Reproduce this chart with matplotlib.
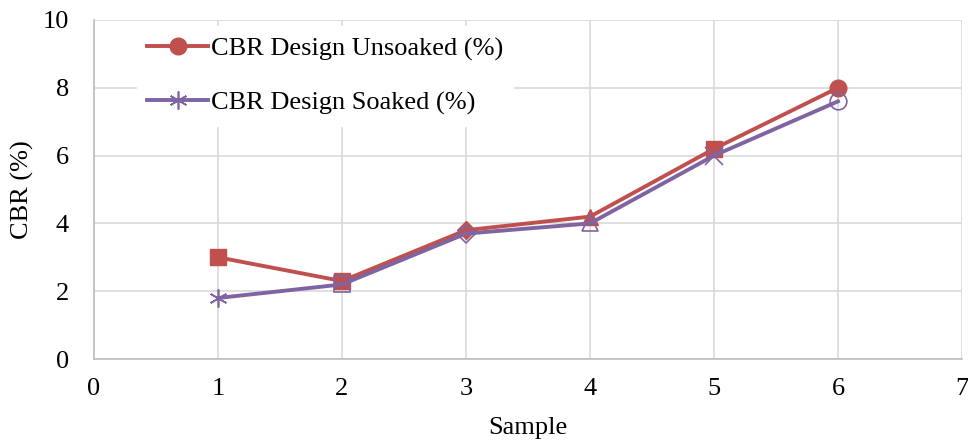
import matplotlib
matplotlib.use("Agg")
import matplotlib.pyplot as plt
from matplotlib.lines import Line2D

plt.rcParams['font.family'] = ['Liberation Serif', 'DejaVu Serif']

# data
samples = [1, 2, 3, 4, 5, 6]
unsoaked = [3.0, 2.3, 3.8, 4.2, 6.2, 8.0]
soaked = [1.8, 2.2, 3.7, 4.0, 6.0, 7.6]
unsoaked_markers = ['s', 's', 'D', '^', 's', 'o']
soaked_markers = ['*', 's', 'D', '^', 'x', 'o']

red = '#C0504D'
purple = '#8064A2'
lw = 2.8

fig = plt.figure(figsize=(9.68, 4.44), dpi=100)
ax = fig.add_axes([0.0971, 0.1914, 0.8967, 0.7636])

ax.plot(samples, unsoaked, color=red, lw=lw, zorder=3)
ax.plot(samples, soaked, color=purple, lw=lw, zorder=4)

for x, y, m in zip(samples, unsoaked, unsoaked_markers):
    ax.plot(x, y, marker=m, ms=12 if m != 'D' else 9, color=red, zorder=3)
for x, y, m in zip(samples, soaked, soaked_markers):
    if m in ('*', 'x'):
        ax.plot(x, y, marker=m if m == 'x' else (6, 2, 0), ms=13, color=purple,
                mew=1.2, zorder=4)
    else:
        ax.plot(x, y, marker=m, ms=12 if m != 'D' else 9, mfc='none',
                mec=purple, mew=1.2, zorder=4)

ax.set_xlim(0, 7)
ax.set_ylim(0, 10)
ax.set_xticks(range(0, 8))
ax.set_yticks(range(0, 11, 2))
ax.grid(True, color='#d9d9d9', lw=1.2)
ax.set_axisbelow(True)
for s in ['top', 'right']:
    ax.spines[s].set_visible(False)
for s in ['left', 'bottom']:
    ax.spines[s].set_color('#bfbfbf')
    ax.spines[s].set_linewidth(1.2)
ax.tick_params(length=0, labelsize=19, pad=14)
ax.tick_params(axis='y', pad=18)
ax.set_xlabel('Sample', fontsize=19, labelpad=12)
ax.set_ylabel('CBR (%)', fontsize=19, labelpad=6)

handles = [
    Line2D([], [], color=red, lw=lw, marker='o', ms=12),
    Line2D([], [], color=purple, lw=lw, marker=(6, 2, 0), ms=13, mew=1.2),
]
leg = ax.legend(handles, ['CBR Design Unsoaked (%)', 'CBR Design Soaked (%)'],
                loc='upper left', bbox_to_anchor=(0.034, 1.02), fontsize=19,
                frameon=True, fancybox=False, edgecolor='white', framealpha=1,
                handlelength=2.3, handletextpad=0.1, labelspacing=1.15,
                borderpad=0.4)

fig.savefig('out.png', dpi=100)
